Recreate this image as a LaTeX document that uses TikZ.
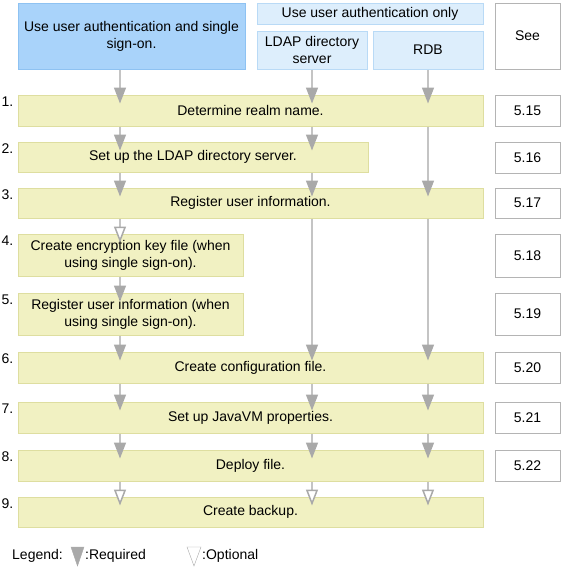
\documentclass[tikz,border=0pt]{standalone}
\usepackage{fontspec}
\setmainfont{Liberation Sans}
\usetikzlibrary{arrows.meta,positioning,calc}
\definecolor{sso}{HTML}{A9D3FA}
\definecolor{ssoline}{HTML}{8EC2F2}
\definecolor{auth}{HTML}{DDEEFC}
\definecolor{authline}{HTML}{B9DAF6}
\definecolor{task}{HTML}{F1F1C2}
\definecolor{taskline}{HTML}{DEDEA0}
\definecolor{refline}{HTML}{B4B4B4}
\definecolor{flow}{HTML}{C4C4C4}
\definecolor{tri}{HTML}{A9A9A9}

\tikzset{
  every node/.style={font=\fontsize{14}{17}\selectfont},
  box/.style={draw, line width=1pt, inner sep=0pt, align=center},
  ssobox/.style={box, draw=ssoline, fill=sso},
  authbox/.style={box, draw=authline, fill=auth},
  taskbox/.style={box, draw=taskline, fill=task},
  refbox/.style={box, draw=refline, fill=white, minimum width=65pt},
  num/.style={inner sep=0pt, anchor=north east},
  req/.style={draw=flow, line width=1.5pt, -{Triangle[length=16pt,width=12pt,color=tri]}},
  opt/.style={draw=flow, line width=1.5pt, -{Triangle[open,length=16pt,width=12pt,color=tri,fill=white]}},
}

\begin{document}
\begin{tikzpicture}[x=1pt,y=-1pt]
  \useasboundingbox (0,0) rectangle (563,568);
  % Header row
  \node[ssobox, minimum width=227pt, minimum height=66pt] (hsso) at (131.5,36) {Use user authentication and single\\sign-on.};
  \node[authbox, minimum width=226pt, minimum height=21pt] (hauth) at (370,13.5) {Use user authentication only};
  \node[authbox, minimum width=110pt, minimum height=38pt] (hldap) at (312,50) {LDAP directory\\server};
  \node[authbox, minimum width=110pt, minimum height=38pt] (hrdb) at (428,50) {RDB};
  \node[refbox, minimum height=66pt] (hsee) at (527.5,36) {See};
  % Steps
  \node[taskbox, minimum width=465pt, minimum height=31pt] (s1) at (250.5,110.5) {Determine realm name.};
  \node[taskbox, minimum width=350pt, minimum height=30pt] (s2) at (193,157) {Set up the LDAP directory server.};
  \node[taskbox, minimum width=465pt, minimum height=30pt] (s3) at (250.5,203) {Register user information.};
  \node[taskbox, minimum width=225pt, minimum height=42pt] (s4) at (130.5,255) {Create encryption key file (when\\using single sign-on).};
  \node[taskbox, minimum width=225pt, minimum height=42pt] (s5) at (130.5,314) {Register user information (when\\using single sign-on).};
  \node[taskbox, minimum width=465pt, minimum height=31pt] (s6) at (250.5,367.5) {Create configuration file.};
  \node[taskbox, minimum width=465pt, minimum height=31pt] (s7) at (250.5,417.5) {Set up JavaVM properties.};
  \node[taskbox, minimum width=465pt, minimum height=31pt] (s8) at (250.5,465.5) {Deploy file.};
  \node[taskbox, minimum width=465pt, minimum height=30pt] (s9) at (250.5,512) {Create backup.};
  \foreach \i in {1,...,9}
    \node[num] (n\i) at ($(s\i.north west)+(-4,2)$) {\i.};
  % References
  \node[refbox, minimum height=31pt] (r15) at (527.5,110.5) {5.15};
  \node[refbox, minimum height=31pt] (r16) at (527.5,157.5) {5.16};
  \node[refbox, minimum height=30pt] (r17) at (527.5,203) {5.17};
  \node[refbox, minimum height=43pt] (r18) at (527.5,255.5) {5.18};
  \node[refbox, minimum height=42pt] (r19) at (527.5,314) {5.19};
  \node[refbox, minimum height=31pt] (r20) at (527.5,368) {5.20};
  \node[refbox, minimum height=31pt] (r21) at (527.5,417.5) {5.21};
  \node[refbox, minimum height=31pt] (r22) at (527.5,465.5) {5.22};
  % Flow columns
  \coordinate (cl) at (120,0);
  \coordinate (cm) at (312,0);
  \coordinate (cr) at (428,0);
  \foreach \a/\b/\c in {hsso/s1/cl, s1/s2/cl, s2/s3/cl, s4/s5/cl, s5/s6/cl, s6/s7/cl, s7/s8/cl,
      hldap/s1/cm, s1/s2/cm, s2/s3/cm, s3/s6/cm, s6/s7/cm, s7/s8/cm,
      hrdb/s1/cr, s1/s3/cr, s3/s6/cr, s6/s7/cr, s7/s8/cr}
    \draw[req] (\a.south -| \c) -- ($(\b.north -| \c)+(0,9)$);
  \foreach \a/\b/\c in {s3/s4/cl, s8/s9/cl, s8/s9/cm, s8/s9/cr}
    \draw[opt] (\a.south -| \c) -- ($(\b.north -| \c)+(0,9)$);
  % Legend
  \node[anchor=west, inner sep=0pt] (legend) at (12,556) {Legend:};
  \draw[draw=tri, fill=tri] (71,547) -- (84,547) -- (77.5,566) -- cycle;
  \node[anchor=west, inner sep=0pt] (lreq) at (85,556) {:Required};
  \draw[draw=tri, fill=white] (187,547) -- (201,547) -- (194,566) -- cycle;
  \node[anchor=west, inner sep=0pt] (lopt) at (202,556) {:Optional};
\end{tikzpicture}
\end{document}
